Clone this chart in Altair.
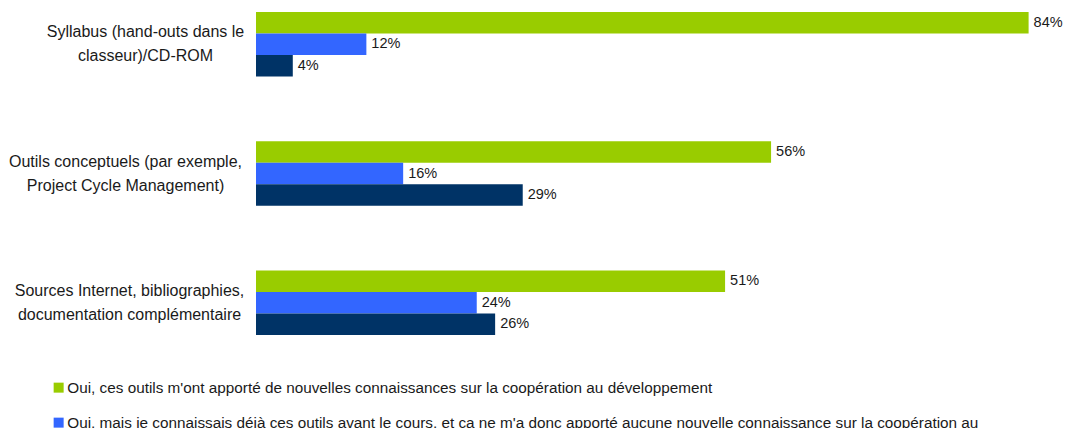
import altair as alt
import pandas as pd

categories = [
    "Syllabus (hand-outs dans le\nclasseur)/CD-ROM",
    "Outils conceptuels (par exemple,\nProject Cycle Management)",
    "Sources Internet, bibliographies,\ndocumentation complémentaire",
]
series = [
    "Oui, ces outils m'ont apporté de nouvelles connaissances sur la coopération au développement",
    "Oui, mais je connaissais déjà ces outils avant le cours, et ça ne m'a donc apporté aucune nouvelle connaissance sur la coopération au\ndéveloppement",
    "Non, je n'ai pas utilisé ces outils",
]
colors = ["#99CC00", "#3366FF", "#003366"]
values_s1 = [84, 56, 51]
values_s2 = [12, 16, 24]
values_s3 = [4, 29, 26]

rows = []
for i, c in enumerate(categories):
    for s, vals in zip(series, [values_s1, values_s2, values_s3]):
        rows.append({"cat": c, "series": s, "value": vals[i], "label": f"{vals[i]}%"})
df = pd.DataFrame(rows)

font = "Liberation Sans"

y_enc = alt.Y(
    "cat:N",
    sort=categories,
    scale=alt.Scale(paddingInner=0.5, paddingOuter=0.03),
    axis=alt.Axis(
        title=None,
        ticks=False,
        tickSize=0,
        domain=False,
        labelAlign="center",
        labelBaseline="middle",
        labelFont=font,
        labelFontSize=16,
        labelColor="#1a1a1a",
        labelLineHeight=24,
        labelOffset=-12,
        labelLimit=400,
        labelExpr="split(datum.label, '\\n')",
        labelPadding={
            "condition": [
                {"test": "indexof(datum.value, 'Syllabus') >= 0", "value": 111},
                {"test": "indexof(datum.value, 'Outils') >= 0", "value": 131},
            ],
            "value": 127,
        },
    ),
)
yoff = alt.YOffset("series:N", sort=series, scale=alt.Scale(paddingInner=0, paddingOuter=0))
x_enc = alt.X("value:Q", scale=alt.Scale(domain=[0, 86], nice=False), axis=None)

bars = alt.Chart(df).mark_bar().encode(
    x=x_enc,
    y=y_enc,
    yOffset=yoff,
    color=alt.Color(
        "series:N",
        sort=series,
        scale=alt.Scale(domain=series, range=colors),
        legend=alt.Legend(
            orient="none",
            legendX=-205,
            legendY=372,
            direction="vertical",
            title=None,
            symbolType="square",
            symbolSize=100,
            symbolStrokeWidth=0,
            labelFont=font,
            labelFontSize=15.3,
            labelColor="#1a1a1a",
            labelLimit=2000,
            labelBaseline="middle",
            labelExpr="split(datum.label, '\\n')",
            rowPadding=19,
            labelOffset=1,
        ),
    ),
)

texts = alt.Chart(df).mark_text(
    align="left", baseline="middle", dx=5, font=font, fontSize=14.5, color="#1a1a1a"
).encode(
    x=x_enc,
    y=alt.Y("cat:N", sort=categories),
    yOffset=yoff,
    text="label:N",
)

chart = (
    alt.layer(bars, texts)
    .properties(
        width=791,
        height=331,
        autosize=alt.AutoSizeParams(type="none"),
        padding={"left": 248, "top": 0, "right": 17, "bottom": 100},
    )
    .configure_view(stroke=None)
)

chart.save("out.html", embed_options={"renderer": "svg", "actions": False})
